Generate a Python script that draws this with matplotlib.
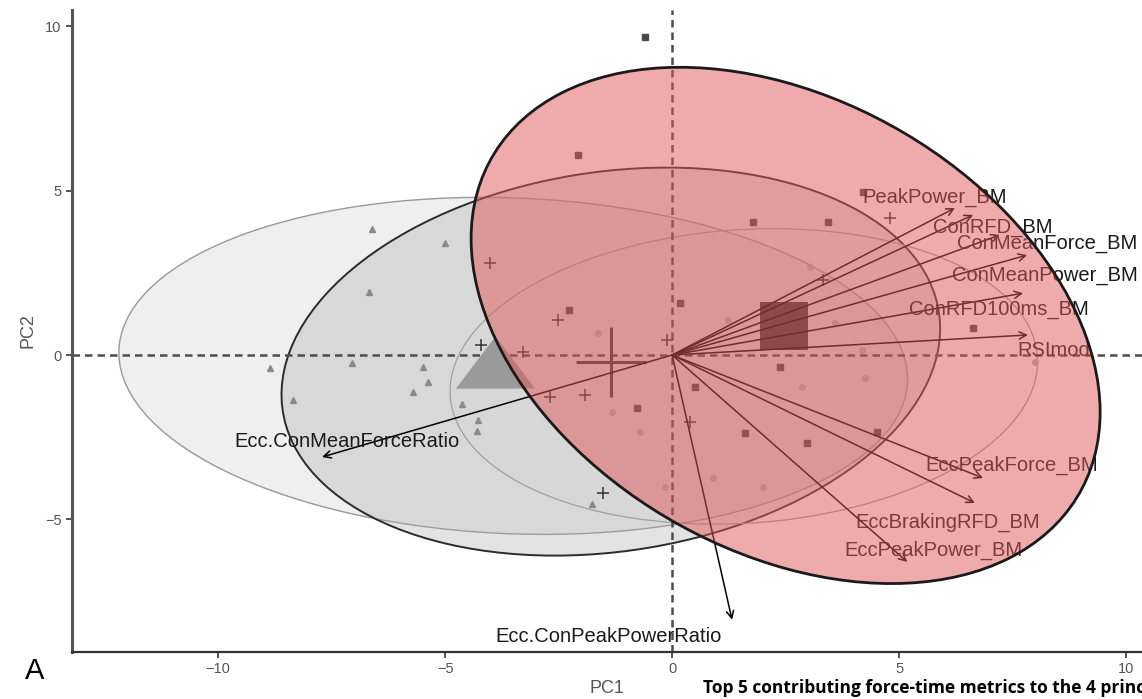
import numpy as np
import matplotlib.pyplot as plt
from matplotlib.patches import Ellipse
from matplotlib.path import Path

plt.rcParams['font.family'] = ['Liberation Sans', 'DejaVu Sans']

# individuals on PC1 / PC2, one pair of lists per group
tri_pc1 = [-6.61, -6.67, -5.00, -8.85, -7.05, -8.35, -5.48, -5.37, -5.70, -4.63, -4.27, -4.30, -1.76]
tri_pc2 = [3.83, 1.91, 3.40, -0.40, -0.24, -1.37, -0.36, -0.82, -1.12, -1.49, -1.98, -2.31, -4.53]

cross_pc1 = [-4.01, -2.51, -3.28, -2.69, -1.92, -0.11, 0.40, -1.52, 3.33, 4.80, -4.21]
cross_pc2 = [2.80, 1.06, 0.09, -1.28, -1.22, 0.46, -2.04, -4.19, 2.28, 4.16, 0.30]

sq_pc1 = [-0.59, -2.07, 1.78, 3.44, 4.21, 0.18, 6.63, 2.38, 0.51, -0.77, 1.61, 2.97, 4.52, -2.27]
sq_pc2 = [9.67, 6.08, 4.04, 4.04, 4.95, 1.58, 0.82, -0.36, -0.97, -1.61, -2.37, -2.67, -2.34, 1.37]

circ_pc1 = [-1.63, -1.32, -0.70, 0.90, 2.00, 3.04, 1.23, 3.59, 4.19, 2.86, 4.25, 8.00, -0.15]
circ_pc2 = [0.67, -1.73, -2.34, -3.74, -4.01, 2.67, 1.06, 0.97, 0.15, -0.97, -0.70, -0.21, -4.01]

# group means
mean_tri = (-3.9, -0.2)
mean_cross = (-1.34, -0.21)
mean_sq = (2.47, 0.88)

# ellipses: centre, width, height, angle
ell_tri = ((-3.5, -0.33), 17.4, 10.2, -4)
ell_cross = ((-1.35, -0.2), 14.86, 11.35, 19.6)
ell_circ = ((1.58, -0.65), 13.0, 8.9, 7.5)
ell_sq = ((2.5, 0.9), 17.24, 11.88, -55.2)

# variable loadings (arrow tips) and label spots
var_names = ['PeakPower_BM', 'ConRFD_BM', 'ConMeanForce_BM', 'ConMeanPower_BM',
             'ConRFD100ms_BM', 'RSImod', 'EccPeakForce_BM', 'EccBrakingRFD_BM',
             'EccPeakPower_BM', 'Ecc.ConPeakPowerRatio', 'Ecc.ConMeanForceRatio']
var_pc1 = [6.23, 6.63, 7.22, 7.82, 7.73, 7.84, 6.85, 6.67, 5.18, 1.32, -7.71]
var_pc2 = [4.47, 4.26, 3.65, 3.04, 1.88, 0.61, -3.74, -4.50, -6.29, -8.05, -3.10]
label_xy = [(5.79, 4.80), (7.07, 3.89), (8.26, 3.40), (8.21, 2.43), (7.20, 1.37),
            (8.41, 0.15), (7.47, -3.34), (6.08, -5.08), (5.75, -5.93),
            (-1.39, -8.57), (-7.16, -2.64)]


def add_ellipse(ax, ell, face, alpha, edge, lw, z):
    (cx, cy), w, h, ang = ell
    ax.add_patch(Ellipse((cx, cy), w, h, angle=ang, facecolor=face,
                         alpha=alpha, lw=0, zorder=z))
    ax.add_patch(Ellipse((cx, cy), w, h, angle=ang, fill=False,
                         edgecolor=edge, lw=lw, zorder=z))


fig = plt.figure(figsize=(11.42, 6.99), dpi=100)
ax = fig.add_axes([0.063, 0.0672, 0.937, 0.9185])
ax.set_xlim(-13.22, 10.35)
ax.set_ylim(-9.03, 10.49)

# grey group ellipses sit under the marks, the red one is laid over them
add_ellipse(ax, ell_tri, '#d9d9d9', 0.4, '#999999', 1.0, 0.5)
add_ellipse(ax, ell_cross, '#a6a6a6', 0.31, '#2b2b2b', 1.4, 0.6)
add_ellipse(ax, ell_circ, '#cccccc', 0.06, '#a0a0a0', 0.9, 0.7)

ax.axhline(0, color='#4d4d4d', lw=1.8, ls=(0, (3, 2)), zorder=1)
ax.axvline(0, color='#4d4d4d', lw=1.8, ls=(0, (3, 2)), zorder=1)

ax.plot(tri_pc1, tri_pc2, '^', ms=5, color='#8a8a8a', zorder=2)
ax.plot(cross_pc1, cross_pc2, '+', ms=8, mew=1.1, color='#333333', zorder=2)
ax.plot(sq_pc1, sq_pc2, 's', ms=4.5, color='#4a4a4a', zorder=2)
ax.plot(circ_pc1, circ_pc2, 'o', ms=4, color='#b0b0b0', zorder=2)

tri_marker = Path([(-1, -0.66), (1, -0.66), (0, 0.66), (-1, -0.66)],
                  [Path.MOVETO, Path.LINETO, Path.LINETO, Path.CLOSEPOLY])
ax.plot(*mean_tri, marker=tri_marker, ms=57, color='#9a9a9a', mew=0, zorder=3)
ax.plot(*mean_cross, marker='+', ms=50, mew=2.2, color='#3a3a3a', zorder=3)
ax.plot(*mean_sq, marker='s', ms=34, color='#3a3a3a', mew=0, zorder=3)

for x, y, name, (lx, ly) in zip(var_pc1, var_pc2, var_names, label_xy):
    ax.annotate('', xy=(x, y), xytext=(0, 0), zorder=3,
                arrowprops=dict(arrowstyle='->', lw=1.1, color='black',
                                mutation_scale=13, shrinkA=0, shrinkB=0))
    ax.text(lx, ly, name, ha='center', va='center', fontsize=14.5,
            color='#1a1a1a', zorder=3)

add_ellipse(ax, ell_sq, '#e05858', 0.5, '#1a1a1a', 2.0, 7)

for s in ['top', 'right']:
    ax.spines[s].set_visible(False)
ax.spines['left'].set_linewidth(2.2)
ax.spines['left'].set_color('#555555')
ax.spines['bottom'].set_linewidth(1.6)
ax.spines['bottom'].set_color('#333333')
ax.spines['left'].set_zorder(8)
ax.spines['bottom'].set_zorder(8)

ax.set_xticks([-10, -5, 0, 5, 10])
ax.set_yticks([-5, 0, 5, 10])
ax.tick_params(length=4, width=1.2, colors='#333333', labelsize=10.5,
               labelcolor='#555555')

ax.set_xlabel('PC1', fontsize=13, color='#555555')
ax.set_ylabel('PC2', fontsize=13, color='#555555')
ax.xaxis.set_label_coords(0.5, -0.043)
ax.yaxis.set_label_coords(-0.033, 0.5)

fig.text(35 / 1142, 1 - 671 / 699, 'A', fontsize=21, ha='center', va='center')
fig.text(703 / 1142, 1 - 688 / 699,
         'Top 5 contributing force-time metrics to the 4 principal components',
         fontsize=12.5, fontweight='bold', family=['Open Sans', 'DejaVu Sans'],
         ha='left', va='center')

fig.savefig('out.png', dpi=100)
